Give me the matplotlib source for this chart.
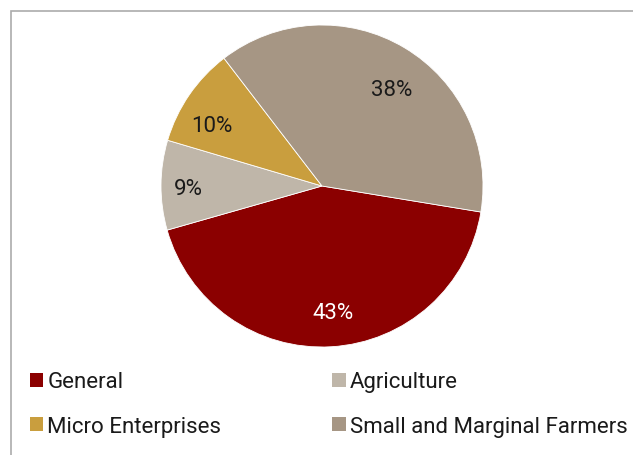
import matplotlib
matplotlib.use("Agg")
import matplotlib.pyplot as plt
import numpy as np
from matplotlib.patches import Rectangle, Patch

categories = ["General", "Agriculture", "Micro Enterprises", "Small and Marginal Farmers"]
shares = [43, 9, 10, 38]
colors = ["#8B0000", "#BFB6A9", "#C99E3E", "#A69684"]
label_colors = ["white", "#1a1a1a", "#1a1a1a", "#1a1a1a"]
# label placement tweaks (radius fraction, angle shift in degrees)
label_r = [0.79, 0.83, 0.78, 0.74]
label_shift = [1.7, 1.3, 5.9, -5.0]

plt.rcParams["font.family"] = ["Roboto", "DejaVu Sans"]

fig = plt.figure(figsize=(6.33, 4.56), dpi=100)

# outer frame (left and top edges visible, rest runs off canvas)
fig.patches.append(Rectangle((11 / 633, -0.05), 1.1, 1 - 12 / 456 + 0.05,
                             transform=fig.transFigure, fill=False,
                             edgecolor="#ABABAB", linewidth=1.2))

cx, cy, r = 322, 187, 161
ax = fig.add_axes([(cx - r) / 633, (456 - cy - r) / 456, 2 * r / 633, 2 * r / 456])
wedges, texts, autotexts = ax.pie(
    shares, colors=colors, startangle=-9.3, counterclock=False,
    autopct="%d%%", pctdistance=0.79,
    wedgeprops=dict(linewidth=0.6, edgecolor="white"),
    textprops=dict(fontsize=16),
)
for w, t, c, lr, ls in zip(wedges, autotexts, label_colors, label_r, label_shift):
    t.set_color(c)
    ang = np.deg2rad((w.theta1 + w.theta2) / 2 + ls)
    t.set_position((lr * np.cos(ang), lr * np.sin(ang)))
ax.set_xlim(-1, 1)
ax.set_ylim(-1, 1)
ax.set_aspect("equal")

handles = [Patch(facecolor=c, edgecolor="none") for c in colors]
order = [0, 2, 1, 3]
fig.legend([handles[i] for i in order], [categories[i] for i in order],
           ncol=2, loc="lower left", bbox_to_anchor=(0.0155, -0.004),
           frameon=False, fontsize=16, handlelength=0.6, handleheight=0.6,
           handletextpad=0.18, columnspacing=5.0, labelspacing=1.05,
           labelcolor="#1a1a1a")

fig.savefig("out.png", dpi=100)
